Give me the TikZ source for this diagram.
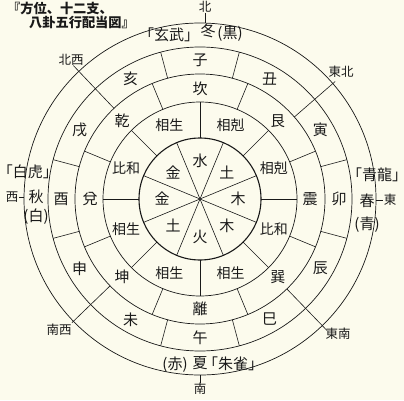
\documentclass[tikz,border=0pt]{standalone}
\usepackage{fontspec}
\setmainfont{Noto Sans CJK JP}
\newcommand{\lbr}{\kern-0.45em「}
\newcommand{\rbr}{」\kern-0.45em}
\begin{document}
\begin{tikzpicture}[x=1pt,y=1pt,
  lab/.style={text=ink, inner sep=0pt, font=\fontsize{15}{15}\selectfont},
  smalllab/.style={text=ink, inner sep=0pt, font=\fontsize{14}{14}\selectfont},
  dirlab/.style={text=ink, inner sep=0pt, font=\fontsize{12.5}{12.5}\selectfont},
  titlelab/.style={text=ink, inner sep=0pt, anchor=west, font=\bfseries\fontsize{13.2}{13.2}\selectfont},
  ringline/.style={draw=ink, line width=0.7pt},
  divider/.style={draw=ink, line width=0.6pt}]
\definecolor{bg}{RGB}{252,251,237}
\definecolor{ink}{RGB}{25,25,25}
\fill[bg] (0,0) rectangle (404,400);
\useasboundingbox (0,0) rectangle (404,400);

% title
\node[titlelab] (t1) at (7,391) {『方位、十二支、};
\node[titlelab] (t2) at (29,378) {八卦五行配当図』};

\begin{scope}[shift={(200,201)}]
  % circles
  \draw[ringline, line width=1.1pt] (0,0) circle (61);
  \draw[ringline] (0,0) circle (97);
  \draw[ringline] (0,0) circle (125);
  \draw[ringline] (0,0) circle (152);
  \draw[ringline] (0,0) circle (176);

  % inner spokes
  \foreach \a in {22.5,67.5,...,337.5} \draw[divider] (0,0) -- (\a:61);
  % ring 2 dividers
  \foreach \a in {0,45,...,315} \draw[divider] (\a:61) -- (\a:97);
  % ring 3 dividers
  \foreach \a in {22.5,67.5,...,337.5} \draw[divider] (\a:97) -- (\a:125);
  % ring 4 dividers
  \foreach \a in {15,75,105,165,195,255,285,345} \draw[divider] (\a:125) -- (\a:152);

  % inner elements
  \foreach \a/\t/\n in {90/水/e1,45/土/e2,0/木/e3,-45/木/e4,-90/火/e5,-135/土/e6,180/金/e7,135/金/e8}
    \node[lab] (\n) at (\a:38) {\t};
  % ring 2 relations
  \foreach \a/\t/\n in {67.5/相剋/r1,22.5/相剋/r2,-22.5/比和/r3,-67.5/相生/r4,-112.5/相生/r5,-157.5/相生/r6,157.5/比和/r7,112.5/相生/r8}
    \node[smalllab] (\n) at (\a:80) {\t};
  % ring 3 trigrams
  \foreach \a/\t/\n in {90/坎/g1,45/艮/g2,0/震/g3,-45/巽/g4,-90/離/g5,-135/坤/g6,180/兌/g7,135/乾/g8}
    \node[lab] (\n) at (\a:110) {\t};
  % ring 4 branches
  \foreach \a/\t/\n in {90/子/b1,60/丑/b2,30/寅/b3,0/卯/b4,-30/辰/b5,-60/巳/b6,-90/午/b7,-120/未/b8,-150/申/b9,180/酉/b10,150/戌/b11,120/亥/b12}
    \node[lab] (\n) at (\a:139) {\t};

  % seasons
  \node[lab] (xuanwu) at (-31,164) {\lbr 玄武\rbr};
  \node[lab] (dong) at (8,168) {冬};
  \node[lab] (hei) at (30,165) {(黒)};
  \node[lab] (qinglong) at (177,24) {\lbr 青龍\rbr};
  \node[lab] (chun) at (167,-2) {春};
  \node[lab] (qing) at (167,-26) {(青)};
  \node[lab] (baihu) at (-172,27) {\lbr 白虎\rbr};
  \node[lab] (qiu) at (-164,2) {秋};
  \node[lab] (bai) at (-164,-18) {(白)};
  \node[lab] (chi) at (-25,-166) {(赤)};
  \node[lab] (xia) at (0,-164) {夏};
  \node[lab] (zhuque) at (33,-165) {\lbr 朱雀\rbr};

  % compass
  \node[dirlab] (N) at (5,192) {北};
  \node[dirlab] (S) at (0,-190) {南};
  \node[dirlab] (E) at (190,-1) {東};
  \node[dirlab] (W) at (-188,2) {西};
  \coordinate (cN) at (5,176);
  \coordinate (cS) at (0,-176);
  \coordinate (cE) at (176,-1);
  \coordinate (cW) at (-176,2);
  \draw[divider] (N.south) -- (cN);
  \draw[divider] (S.north) -- (cS);
  \draw[divider] (E.west) ++(-1,0) -- (cE);
  \draw[divider] (W.east) ++(1,0) -- (cW);

  % diagonals
  \coordinate (dNE0) at (41:125);   \coordinate (dNE1) at (41:179);
  \coordinate (dNW0) at (133.5:125); \coordinate (dNW1) at (133.5:184);
  \coordinate (dSW0) at (224:125);  \coordinate (dSW1) at (224:178);
  \coordinate (dSE0) at (-46:125);  \coordinate (dSE1) at (-46:183);
  \draw[divider] (dNE0) -- (dNE1);
  \draw[divider] (dNW0) -- (dNW1);
  \draw[divider] (dSW0) -- (dSW1);
  \draw[divider] (dSE0) -- (dSE1);
  \node[dirlab] (NE) at (141,127) {東北};
  \node[dirlab] (NW) at (-129,139) {北西};
  \node[dirlab] (SW) at (-141,-131) {南西};
  \node[dirlab] (SE) at (138,-135) {東南};
\end{scope}
\end{tikzpicture}
\end{document}
